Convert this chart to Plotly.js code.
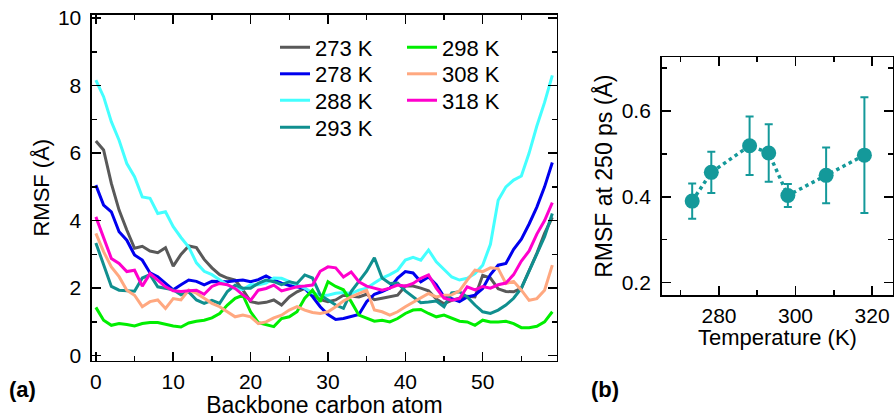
<!DOCTYPE html>
<html>
<head>
<meta charset="utf-8">
<script src="https://cdn.plot.ly/plotly-3.0.1.min.js"></script>
<style>html,body{margin:0;padding:0;background:#fff;}#chart{width:894px;height:418px;}</style>
</head>
<body>
<div id="chart"></div>
<script>
// ---- Panel (a): RMSF per backbone carbon atom ----
const atoms = Array.from({length: 60}, (_, i) => i);
const seriesNames = ['273 K', '278 K', '288 K', '293 K', '298 K', '308 K', '318 K'];
const seriesColors = ['#595959', '#0000ee', '#44ffff', '#108f8f', '#00ee00', '#ffa880', '#ff00cc'];
const rmsf273 = [6.36,6.09,5.1,4.31,3.72,3.18,3.24,3.1,3.05,3.2,2.65,3.0,3.25,3.2,2.85,2.6,2.4,2.3,2.24,1.95,1.6,1.55,1.58,1.65,1.5,1.74,1.89,1.99,1.8,1.66,1.6,1.65,1.79,1.76,1.74,1.82,1.66,1.7,1.74,1.79,2.06,2.06,2.0,1.92,1.68,1.54,1.64,1.69,1.76,1.74,2.38,2.3,1.98,1.9,1.89,2.0,2.5,3.03,3.62,4.1];
const rmsf278 = [5.05,4.46,4.26,3.67,3.42,2.98,2.83,2.45,2.34,2.14,1.95,2.1,2.24,2.2,2.1,2.2,2.19,2.19,2.22,2.24,2.19,2.25,2.36,2.24,2.15,2.08,2.04,1.99,1.75,1.45,1.22,1.07,1.1,1.15,1.22,1.6,1.82,1.9,2.0,2.3,2.49,2.45,2.19,2.33,2.1,1.74,1.69,1.6,1.74,1.79,1.99,2.4,2.68,2.73,3.15,3.45,3.9,4.4,5.0,5.72];
const rmsf288 = [8.16,7.67,6.93,6.38,5.69,5.3,4.7,4.66,4.21,4.26,3.82,3.5,3.22,2.75,2.5,2.4,2.25,2.1,1.98,1.96,2.1,2.1,2.15,2.3,2.29,2.19,2.1,2.0,1.86,1.79,1.79,1.85,1.87,1.84,1.94,2.0,2.15,2.3,2.4,2.53,2.83,2.91,2.83,3.13,2.78,2.55,2.33,2.24,2.29,2.43,2.68,3.3,4.6,5.0,5.2,5.32,6.0,6.8,7.5,8.3];
const rmsf293 = [3.34,2.7,2.05,1.94,1.92,1.91,2.3,2.4,2.04,2.0,1.95,1.8,1.89,1.65,1.55,1.64,1.55,1.9,2.09,2.0,2.0,2.14,2.24,2.19,2.1,2.19,2.14,2.39,2.3,1.8,1.65,1.5,1.4,1.9,2.2,2.5,2.9,2.3,2.14,2.15,1.92,1.75,1.57,1.59,1.62,1.45,1.86,1.89,1.74,1.5,1.3,1.25,1.35,1.5,1.7,2.0,2.5,3.03,3.52,4.21];
const rmsf298 = [1.43,1.05,0.9,0.95,0.92,0.88,0.95,0.98,0.98,0.92,0.88,0.85,0.97,1.02,1.05,1.12,1.25,1.5,1.7,1.79,1.3,0.98,0.92,0.86,1.1,1.15,1.3,1.7,1.94,1.6,2.19,2.05,1.95,1.6,1.2,1.1,1.02,1.05,1.0,1.1,1.25,1.35,1.37,1.25,1.15,1.2,1.1,1.02,1.0,0.9,1.05,1.0,1.0,1.02,0.95,0.83,0.83,0.87,1.0,1.3];
const rmsf308 = [3.62,3.08,2.63,2.34,1.94,1.79,1.45,1.6,1.65,1.4,1.69,1.65,1.94,1.85,1.7,1.55,1.45,1.3,1.15,1.2,1.15,0.95,1.0,1.12,1.2,1.35,1.45,1.35,1.28,1.25,1.3,1.45,1.62,1.74,1.85,1.94,1.35,1.3,1.2,1.3,1.45,1.58,1.69,1.84,1.74,1.79,1.8,1.92,2.24,2.53,2.49,2.6,2.58,2.14,2.2,1.94,1.64,1.69,1.94,2.68];
const rmsf318 = [4.11,3.52,2.88,2.73,2.49,2.53,2.06,2.43,2.24,2.04,1.92,1.9,1.92,1.94,1.82,2.05,2.14,2.1,1.99,1.8,1.64,1.94,1.99,2.09,1.92,1.99,2.04,2.06,2.09,2.5,2.63,2.6,2.33,2.48,2.19,2.06,2.0,1.94,2.0,2.09,2.06,2.14,2.29,2.39,2.0,1.7,1.64,1.69,2.04,1.95,2.05,2.0,2.1,2.15,2.4,2.8,3.1,3.6,4.0,4.53];
const seriesValues = [rmsf273, rmsf278, rmsf288, rmsf293, rmsf298, rmsf308, rmsf318];

// ---- Panel (b): RMSF at 250 ps vs temperature ----
const temperatures = [273, 278, 288, 293, 298, 308, 318];
const rmsf250 = [0.390, 0.457, 0.519, 0.502, 0.403, 0.450, 0.497];
const rmsf250Err = [0.041, 0.048, 0.068, 0.067, 0.027, 0.065, 0.135];

const FONT = 'Liberation Sans, Arial, sans-serif';
const legendIds = ['legend', 'legend2', 'legend3', 'legend4', 'legend5', 'legend6', 'legend7'];
const traces = seriesNames.map((name, k) => ({
  type: 'scatter', mode: 'lines', name: name,
  x: atoms, y: seriesValues[k],
  line: {color: seriesColors[k], width: 3},
  xaxis: 'x', yaxis: 'y',
  legend: legendIds[k]
}));
traces.push({
  type: 'scatter', mode: 'lines+markers', name: 'RMSF at 250 ps',
  x: temperatures, y: rmsf250,
  error_y: {type: 'data', array: rmsf250Err, visible: true, color: '#14999a', thickness: 2, width: 4},
  line: {color: '#14999a', width: 3.5, dash: 'dot'},
  marker: {color: '#14999a', size: 15},
  xaxis: 'x2', yaxis: 'y2', showlegend: false
});

const axisCommon = {
  showline: true, linecolor: '#000', linewidth: 1.5, mirror: 'allticks',
  ticks: 'inside', ticklen: 9, tickwidth: 1.5, tickcolor: '#000',
  showgrid: false, zeroline: false,
  tickfont: {family: FONT, size: 21, color: '#000'}
};
const minorCommon = {ticks: 'inside', ticklen: 5, tickwidth: 1.5, tickcolor: '#000', showgrid: false};

const layout = {
  width: 894, height: 418,
  margin: {l: 0, r: 0, t: 0, b: 0},
  paper_bgcolor: '#fff', plot_bgcolor: '#fff',
  font: {family: FONT, color: '#000'},
  xaxis: Object.assign({}, axisCommon, {
    domain: [0.1029, 0.6230], anchor: 'y', range: [-0.5, 59.6],
    tickvals: [0, 10, 20, 30, 40, 50], minor: Object.assign({dtick: 5, tick0: 0}, minorCommon),
    ticklabelstandoff: 2,
    title: {text: 'Backbone carbon atom', font: {family: FONT, size: 23}, standoff: 0}
  }),
  yaxis: Object.assign({}, axisCommon, {
    domain: [0.137, 0.965], anchor: 'x', range: [-0.15, 10.1],
    tickvals: [0, 2, 4, 6, 8, 10], minor: Object.assign({dtick: 1, tick0: 0}, minorCommon),
    ticklabelstandoff: 5,
    title: {text: 'RMSF (Å)', font: {family: FONT, size: 22}, standoff: 2}
  }),
  xaxis2: Object.assign({}, axisCommon, {
    domain: [0.740, 0.999], anchor: 'y2', range: [265, 325.5],
    tickvals: [280, 300, 320], minor: Object.assign({dtick: 10, tick0: 270}, minorCommon),
    ticklabelstandoff: 1
  }),
  yaxis2: Object.assign({}, axisCommon, {
    domain: [0.294, 0.863], anchor: 'x2', range: [0.171, 0.725],
    tickvals: [0.2, 0.4, 0.6], ticktext: ['0.2', '0.4', '0.6'],
    minor: Object.assign({dtick: 0.1, tick0: 0.2}, minorCommon),
    ticklabelstandoff: 5,
    title: {text: 'RMSF at 250 ps (Å)', font: {family: FONT, size: 23}, standoff: 2}
  }),
  annotations: [
    {text: 'Temperature (K)', xref: 'x2 domain', yref: 'paper', x: 0.5, y: 1 - 337 / 418, xanchor: 'center', yanchor: 'middle', showarrow: false, font: {family: FONT, size: 22}},
    {text: '<b>(a)</b>', xref: 'paper', yref: 'paper', x: 0.008, y: 0.068, xanchor: 'left', yanchor: 'middle', showarrow: false, font: {family: FONT, size: 22}},
    {text: '<b>(b)</b>', xref: 'paper', yref: 'paper', x: 0.659, y: 0.068, xanchor: 'left', yanchor: 'middle', showarrow: false, font: {family: FONT, size: 22}}
  ]
};
// legend entries: two columns (col1: 4 rows, col2: 3 rows)
const legendCols = [275, 402];
const legendRows = [47.5, 74, 100.5, 127.5];
legendIds.forEach((id, k) => {
  const col = k < 4 ? 0 : 1;
  const row = k < 4 ? k : k - 4;
  layout[id] = {
    x: legendCols[col] / 894, y: 1 - legendRows[row] / 418,
    xanchor: 'left', yanchor: 'middle', bgcolor: 'rgba(0,0,0,0)',
    font: {family: FONT, size: 22}
  };
});

Plotly.newPlot('chart', traces, layout, {displayModeBar: false, staticPlot: true});
</script>
</body>
</html>
